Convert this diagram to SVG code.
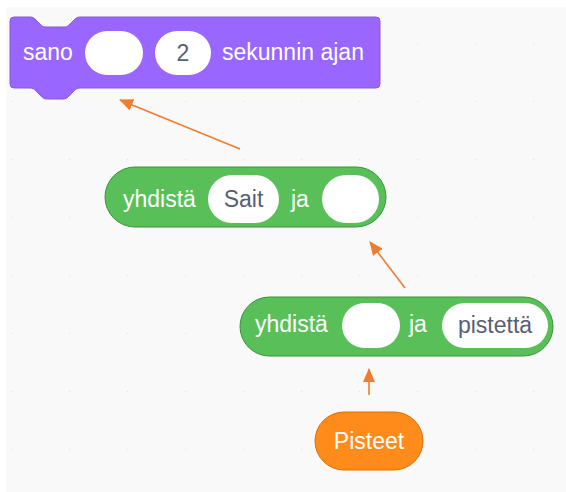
<svg xmlns="http://www.w3.org/2000/svg" width="566" height="492" viewBox="0 0 566 492">
<style>
text{font-family:"Liberation Sans",Arial,sans-serif;font-size:23px}
.lbl{fill:#ffffff}
.val{fill:#575e75;text-anchor:middle}
.pill{fill:#ffffff}
.conn{stroke:#ed7d31;stroke-width:1.6;fill:none;marker-end:url(#ah)}
.dot{fill:#e2e2e2}
</style>
<defs>
<marker id="ah" markerUnits="userSpaceOnUse" markerWidth="14" markerHeight="12" refX="13" refY="6" orient="auto">
<path d="M0,0 L14,6 L0,12 Z" fill="#ed7d31"/>
</marker>
<pattern id="grid" x="0" y="0" width="58" height="58" patternUnits="userSpaceOnUse" patternTransform="translate(-46,-14)">
<circle cx="58" cy="58" r="1.3" class="dot"/>
</pattern>
</defs>
<rect x="0" y="0" width="566" height="492" fill="#ffffff"/>
<rect x="6" y="7" width="560" height="485" fill="#f9f9f9"/>
<g id="grid-dots" fill="#e2e2e2">
<rect x="6" y="7" width="560" height="485" fill="url(#grid)"/>
</g>
<g id="say-block">
<path d="M14,17 H30 C33,17 34,18 36,20 L41,25 C43,27 44,27 47,27 H63 C66,27 67,27 69,25 L74,20 C76,18 77,17 80,17 H376 A4,4 0 0 1 380,21 V84 A4,4 0 0 1 376,88 H80 C77,88 76,89 74,91 L69,96 C67,98 66,99 63,99 H47 C44,99 43,98 41,96 L36,91 C34,89 33,88 30,88 H14 A4,4 0 0 1 10,84 V21 A4,4 0 0 1 14,17 Z" fill="#9966ff" stroke="#855cd6" stroke-width="1"/>
<text x="23" y="60" class="lbl">sano</text>
<rect x="85" y="31" width="58" height="44" rx="22" class="pill"/>
<rect x="155" y="31" width="56" height="44" rx="22" class="pill"/>
<text x="183" y="61" class="val">2</text>
<text x="222" y="60" class="lbl">sekunnin ajan</text>
</g>
<g id="join-block-1">
<rect x="105" y="167" width="281" height="60" rx="30" fill="#59c059" stroke="#389438" stroke-width="1"/>
<text x="123" y="207" class="lbl">yhdistä</text>
<rect x="208" y="175" width="71" height="48" rx="24" class="pill"/>
<text x="243.5" y="207" class="val">Sait</text>
<text x="291" y="207" class="lbl">ja</text>
<rect x="322" y="175" width="57" height="48" rx="24" class="pill"/>
</g>
<g id="join-block-2">
<rect x="240" y="297" width="313" height="59" rx="29.5" fill="#59c059" stroke="#389438" stroke-width="1"/>
<text x="255" y="332" class="lbl">yhdistä</text>
<rect x="342" y="303" width="58" height="45" rx="22.5" class="pill"/>
<text x="409" y="332" class="lbl">ja</text>
<rect x="442" y="303" width="106" height="45" rx="22.5" class="pill"/>
<text x="495" y="333" class="val">pistettä</text>
</g>
<g id="points-var">
<rect x="315" y="412" width="108" height="58" rx="29" fill="#ff8c1a" stroke="#db6e00" stroke-width="1"/>
<text x="369" y="449" class="lbl" text-anchor="middle">Pisteet</text>
</g>
<g id="connectors">
<line x1="240" y1="149" x2="120" y2="100" class="conn"/>
<line x1="405" y1="288" x2="370" y2="242" class="conn"/>
<line x1="369" y1="395" x2="369" y2="369" class="conn"/>
</g>
</svg>
